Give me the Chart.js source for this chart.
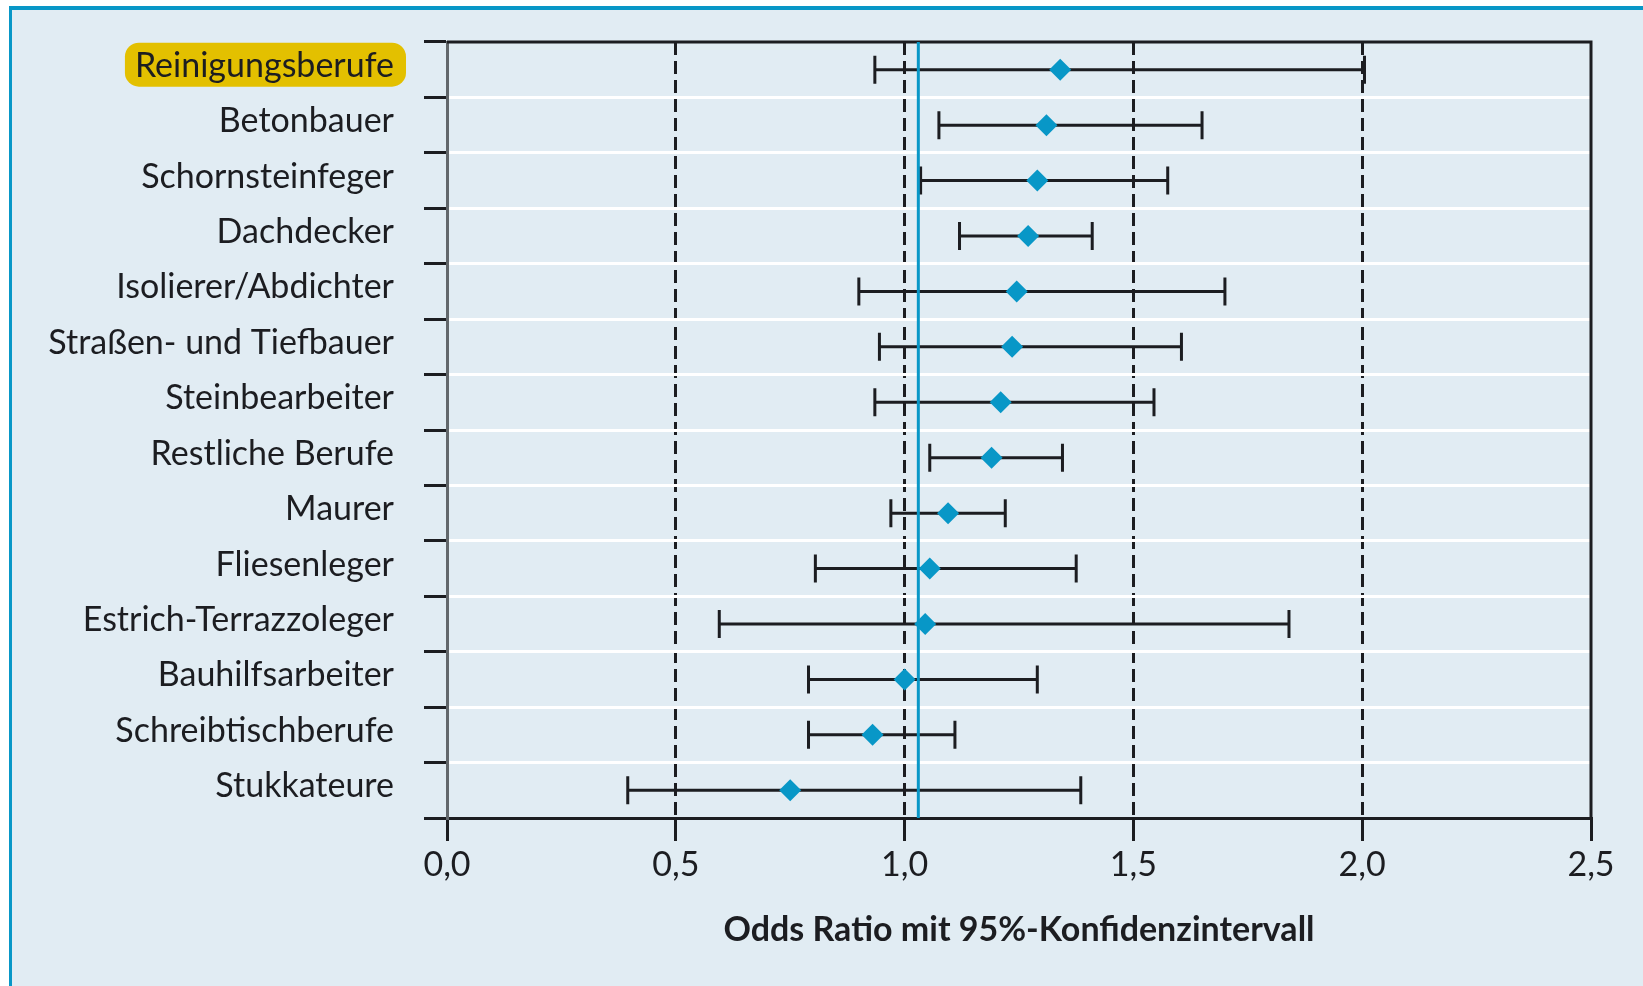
<!DOCTYPE html>
<html lang="de">
<head>
<meta charset="utf-8">
<title>Odds Ratio mit 95%-Konfidenzintervall</title>
<script src="https://cdn.jsdelivr.net/npm/chart.js@4.4.1/dist/chart.umd.min.js"></script>
<style>
  html, body { margin: 0; padding: 0; background: #fff; overflow: hidden; }
  #frame {
    position: absolute; left: 9px; top: 6px; width: 1634px; height: 980px;
    box-sizing: border-box; background: #e1ecf3;
    border-top: 4px solid #0897c7; border-left: 3px solid #0897c7;
  }
  #chartWrap { position: absolute; left: 0; top: 0; width: 1643px; height: 986px; }
</style>
</head>
<body>
<div id="frame"></div>
<div id="chartWrap"><canvas id="orChart" width="1643" height="986"></canvas></div>
<script>
// Occupational groups, top to bottom
const categories = [
  'Reinigungsberufe', 'Betonbauer', 'Schornsteinfeger', 'Dachdecker',
  'Isolierer/Abdichter', 'Straßen- und Tiefbauer', 'Steinbearbeiter',
  'Restliche Berufe', 'Maurer', 'Fliesenleger', 'Estrich-Terrazzoleger',
  'Bauhilfsarbeiter', 'Schreibtischberufe', 'Stukkateure'
];
const oddsRatios = [1.34, 1.31, 1.29, 1.27, 1.245, 1.235, 1.21, 1.19, 1.095, 1.055, 1.045, 1.00, 0.93, 0.75];
const ciLower   = [0.935, 1.075, 1.035, 1.12, 0.90, 0.945, 0.935, 1.055, 0.97, 0.805, 0.595, 0.79, 0.79, 0.395];
const ciUpper   = [2.005, 1.65, 1.575, 1.41, 1.70, 1.605, 1.545, 1.345, 1.22, 1.375, 1.84, 1.29, 1.11, 1.385];
const xTickLabels = ['0,0', '0,5', '1,0', '1,5', '2,0', '2,5'];
const referenceValue = 1.03; // solid blue line
const highlighted = 'Reinigungsberufe';

const BLUE = '#0897c7';
const INK = '#1c1d21';
const LABEL_FONT = { family: 'Lato', size: 34 };
const LABEL_SHIFT = -4; // labels sit a little above the row centre

const forestPlugin = {
  id: 'forest',
  beforeDraw(chart) {
    // yellow pill behind the highlighted label
    const ctx = chart.ctx;
    const y = chart.scales.y;
    const idx = categories.indexOf(highlighted);
    if (idx < 0) return;
    ctx.save();
    ctx.font = LABEL_FONT.size + 'px ' + LABEL_FONT.family;
    const w = ctx.measureText(highlighted).width;
    const xr = y.right - y.options.grid.tickLength - y.options.ticks.padding;
    const yc = y.getPixelForTick(idx) + LABEL_SHIFT - 1;
    ctx.fillStyle = '#e3c000';
    ctx.beginPath();
    ctx.roundRect(xr - w - 10, yc - 22, w + 22, 44, 14);
    ctx.fill();
    ctx.restore();
  },
  beforeDatasetsDraw(chart) {
    const { ctx, chartArea: a, scales: { x, y } } = chart;
    ctx.save();
    ctx.lineCap = 'butt';

    // top and right edge of the plot box
    ctx.strokeStyle = INK;
    ctx.lineWidth = 3;
    ctx.beginPath();
    ctx.moveTo(a.left, a.top);
    ctx.lineTo(a.right, a.top);
    ctx.lineTo(a.right, a.bottom);
    ctx.stroke();

    // confidence intervals
    ctx.lineWidth = 3;
    categories.forEach((c, i) => {
      const yc = y.getPixelForValue(i);
      const x1 = x.getPixelForValue(ciLower[i]);
      const x2 = x.getPixelForValue(ciUpper[i]);
      ctx.beginPath();
      ctx.moveTo(x1, yc); ctx.lineTo(x2, yc);
      ctx.moveTo(x1, yc - 14); ctx.lineTo(x1, yc + 14);
      ctx.moveTo(x2, yc - 14); ctx.lineTo(x2, yc + 14);
      ctx.stroke();
    });

    // reference line
    const xr = x.getPixelForValue(referenceValue);
    ctx.strokeStyle = BLUE;
    ctx.lineWidth = 3;
    ctx.beginPath();
    ctx.moveTo(xr, a.top);
    ctx.lineTo(xr, a.bottom);
    ctx.stroke();
    ctx.restore();
  }
};

new Chart(document.getElementById('orChart'), {
  type: 'line',
  data: {
    labels: categories,
    datasets: [{
      label: 'Odds Ratio',
      data: oddsRatios,
      showLine: false,
      pointStyle: 'rectRot',
      pointRadius: 11,
      pointBackgroundColor: BLUE,
      pointBorderColor: BLUE,
      pointBorderWidth: 0,
      pointHoverRadius: 11
    }]
  },
  plugins: [forestPlugin],
  options: {
    indexAxis: 'y',
    responsive: false,
    animation: false,
    layout: { padding: { top: 42, right: 52, bottom: 34, left: 0 } },
    plugins: {
      legend: { display: false },
      tooltip: { enabled: false }
    },
    scales: {
      x: {
        type: 'linear',
        min: 0,
        max: 2.5,
        afterFit: s => { s.height = 134; },
        ticks: {
          stepSize: 0.5,
          padding: 4,
          color: INK,
          font: { family: 'Lato', size: 34 },
          callback: (v, i) => xTickLabels[i]
        },
        grid: {
          color: c => (c.tick && (c.tick.value === 0 || c.tick.value === 2.5)) ? 'rgba(0,0,0,0)' : INK,
          lineWidth: 3,
          tickColor: INK,
          tickWidth: 3,
          tickLength: 23
        },
        border: { color: INK, width: 3, dash: [13, 6] },
        title: {
          display: true,
          text: 'Odds Ratio mit 95%-Konfidenzintervall',
          color: INK,
          font: { family: 'Lato', size: 34, weight: 'bold' },
          padding: { top: 0, bottom: 2 }
        }
      },
      y: {
        type: 'category',
        offset: true,
        afterFit: s => { s.width = 447; s.paddingTop = 0; s.paddingBottom = 0; },
        ticks: {
          padding: 30,
          labelOffset: LABEL_SHIFT,
          color: INK,
          font: LABEL_FONT
        },
        grid: {
          offset: true,
          color: c => (c.index === 0 || c.index >= categories.length) ? 'rgba(0,0,0,0)' : '#ffffff',
          lineWidth: 3,
          tickColor: INK,
          tickWidth: 3,
          tickLength: 23
        },
        border: { color: '#62676b', width: 3 }
      }
    }
  }
});
</script>
</body>
</html>
